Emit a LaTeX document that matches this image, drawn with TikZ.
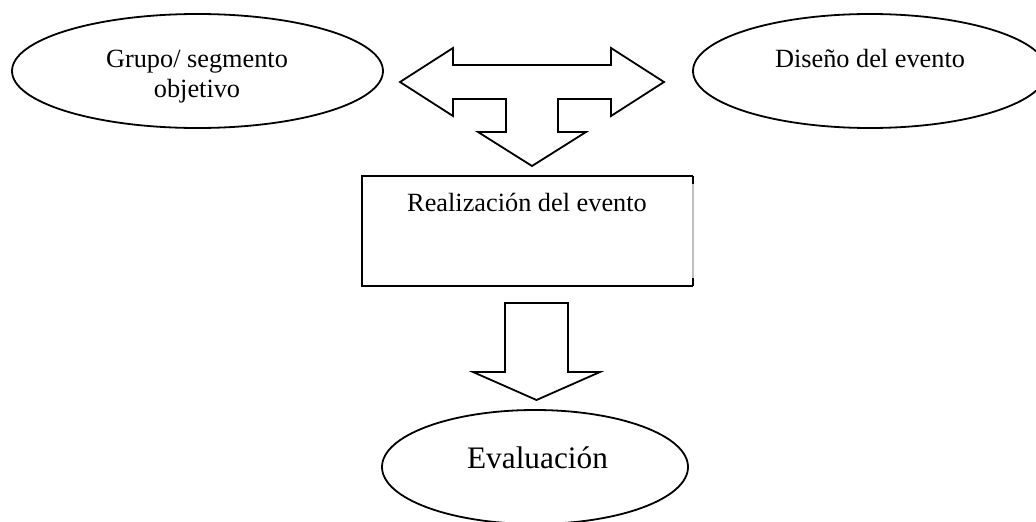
\documentclass[tikz,border=0pt]{standalone}
\usepackage{fontspec}
\setmainfont{Liberation Serif}
\usetikzlibrary{shapes.geometric}
\begin{document}
\begin{tikzpicture}[x=1pt,y=-1pt,
  oval/.style={ellipse, draw, line width=1.8pt, inner sep=0pt, outer sep=0pt},
  lbl/.style={font=\fontsize{26.3}{30}\selectfont, align=center, inner sep=0pt},
  biglbl/.style={font=\fontsize{31.3}{34}\selectfont, inner sep=0pt},
  blockarrow/.style={draw, line width=1.8pt, line join=miter, fill=white}]
\clip (0,0) rectangle (1036,522);
% ellipses
\node[oval, minimum width=371pt, minimum height=114pt] (grupo) at (197.5,71) {};
\node[oval, minimum width=354pt, minimum height=114pt] (diseno) at (870,71) {};
\node[oval, minimum width=306pt, minimum height=114pt] (evalu) at (535,467) {};
% texts
\node[lbl, anchor=base] (grupoTxt) at (197,97) {Grupo/ segmento\\objetivo};
\node[lbl, anchor=base] (disenoTxt) at (870,67) {Diseño del evento};
\node[biglbl, anchor=base] (evaluTxt) at (537.5,468) {Evaluación};
% rectangle
\node[minimum width=331pt, minimum height=110pt, inner sep=0pt, outer sep=0pt] (real) at (527.5,231) {};
\node[lbl, anchor=base] (realTxt) at (527,211) {Realización del evento};
\draw[line width=1.8pt] (real.north east) -- (real.north west) -- (real.south west) -- (real.south east);
\draw[line width=1.8pt, black!25] (real.north east) -- (real.south east);
\draw[line width=1.8pt] (real.north east) -- ++(0,8);
\draw[line width=1.8pt] (real.south east) -- ++(0,-8);
% T-shaped block arrow
\draw[blockarrow] (400,82) -- (453,48) -- (453,65) -- (611,65) -- (611,48) -- (664,82)
  -- (611,116) -- (611,99) -- (558,99) -- (558,132) -- (586,132) -- (532,166)
  -- (478,132) -- (506,132) -- (506,99) -- (453,99) -- (453,116) -- cycle;
% down block arrow
\draw[blockarrow] (505,303) -- (568,303) -- (568,372) -- (600,372) -- (536.5,400)
  -- (473,372) -- (505,372) -- cycle;
\end{tikzpicture}
\end{document}
